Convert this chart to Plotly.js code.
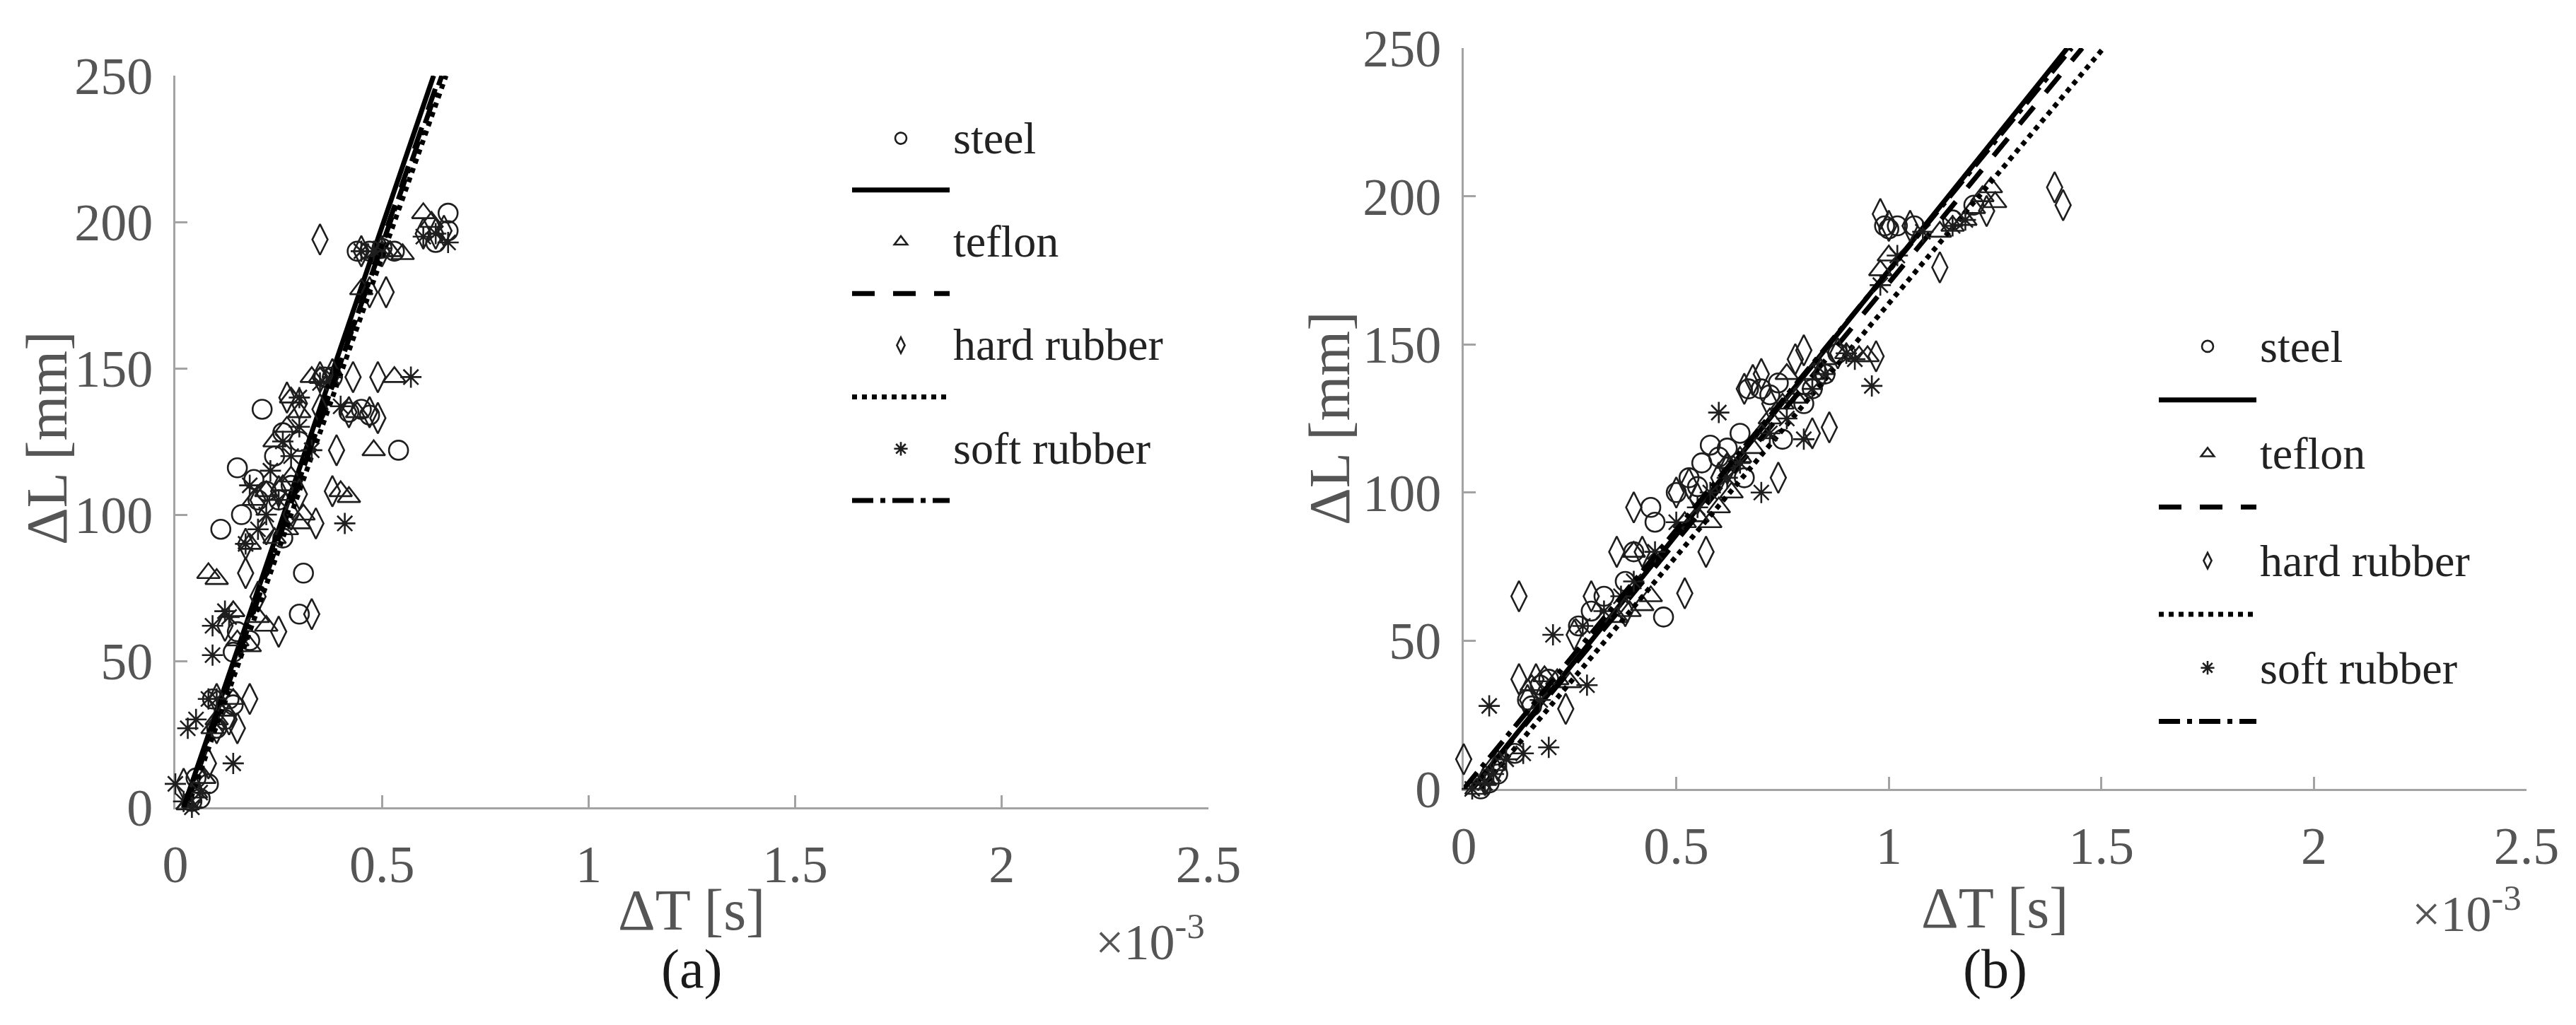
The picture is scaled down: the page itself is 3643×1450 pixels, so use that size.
<!DOCTYPE html>
<html>
<head>
<meta charset="utf-8">
<script src="https://cdn.plot.ly/plotly-3.0.1.min.js"></script>
<style>
html, body { margin: 0; padding: 0; background: #fff; }
#plotDiv { width: 3643px; height: 1450px; }
</style>
</head>
<body>
<div id="plotDiv"></div>
<script>
"use strict";

// Delta T in units of 1e-3 s, delta L in mm

// (a)
const steelA_dt = [0.04,0.06,0.08,0.05,0.10,0.12,0.14,0.09,0.13,0.14,0.18,0.15,0.11,0.16,0.20,0.25,0.22,0.28,0.15,0.19,0.24,0.30,0.21,0.26,0.31,0.30,0.26,0.36,0.38,0.42,0.45,0.47,0.54,0.44,0.47,0.50,0.53,0.63,0.66,0.66];
const steelA_dl = [2,3,8,10,27,30,35,37,37,53,57,60,95,100,105,105,108,110,116,112,120,125,136,128,80,66,92,147,147,135,136,134,122,190,190,191,190,193,197,203];
const teflonA_dt = [0.03,0.05,0.07,0.09,0.10,0.12,0.14,0.08,0.10,0.15,0.18,0.14,0.20,0.22,0.18,0.24,0.27,0.30,0.19,0.22,0.26,0.28,0.31,0.24,0.27,0.30,0.28,0.33,0.35,0.40,0.42,0.44,0.48,0.53,0.45,0.50,0.52,0.55,0.60,0.62];
const teflonA_dl = [1,5,10,27,30,33,37,80,78,57,55,67,65,62,90,92,95,97,105,108,110,113,100,125,130,135,140,147,147,108,106,135,122,147,177,190,190,189,203,200];
const hardA_dt = [0.02,0.05,0.08,0.10,0.10,0.13,0.15,0.18,0.12,0.17,0.20,0.25,0.33,0.17,0.22,0.28,0.20,0.25,0.30,0.34,0.38,0.39,0.27,0.30,0.35,0.42,0.47,0.49,0.43,0.49,0.35,0.38,0.45,0.50,0.47,0.51,0.60,0.63,0.65,0.35];
const hardA_dl = [8,5,15,37,27,30,27,37,62,80,72,60,66,90,95,100,105,108,107,97,108,122,140,138,136,135,135,133,147,147,147,148,190,190,176,176,196,196,197,194];
const softA_dt = [0.00,0.02,0.04,0.06,0.03,0.05,0.08,0.10,0.14,0.09,0.09,0.13,0.12,0.17,0.20,0.22,0.25,0.18,0.23,0.28,0.26,0.30,0.33,0.41,0.30,0.35,0.38,0.40,0.57,0.45,0.48,0.50,0.60,0.63,0.66];
const softA_dl = [8,2,0,5,27,30,37,37,15,62,52,65,67,90,95,100,105,110,115,120,125,130,122,97,140,145,147,137,147,190,190,191,195,196,193];

// fitted lines (a): end points
const fitA_dl = [0, 250];
const steelFitA_dt = [0.02, 0.625];
const teflonFitA_dt = [0.025, 0.64];
const hardFitA_dt = [0.03, 0.655];
const softFitA_dt = [0.02, 0.645];

// (b)
const steelB_dt = [0.04,0.06,0.08,0.15,0.18,0.20,0.12,0.16,0.27,0.30,0.33,0.38,0.40,0.47,0.44,0.45,0.50,0.53,0.55,0.58,0.56,0.60,0.62,0.65,0.67,0.70,0.72,0.74,0.66,0.75,0.80,0.82,0.85,0.88,0.99,1.00,1.02,1.06,1.15,1.20];
const steelB_dl = [0,2,5,30,35,37,12,28,55,60,65,70,80,58,95,90,100,105,102,116,110,112,115,120,135,135,133,137,105,118,130,135,140,147,190,189,190,190,192,197];
const teflonB_dt = [0.03,0.05,0.07,0.16,0.19,0.22,0.25,0.36,0.39,0.42,0.40,0.44,0.52,0.55,0.58,0.60,0.63,0.62,0.65,0.68,0.70,0.72,0.75,0.78,0.80,0.76,0.82,0.85,0.90,0.93,0.95,0.98,1.00,1.12,1.15,1.18,1.20,1.22,1.24,1.25];
const teflonB_dl = [0,3,8,35,38,37,36,58,60,62,80,65,90,92,90,95,100,110,112,115,120,125,130,132,135,140,140,145,147,146,146,175,180,188,190,192,196,200,203,198];
const hardB_dt = [0.00,0.05,0.08,0.13,0.15,0.17,0.24,0.13,0.26,0.30,0.36,0.40,0.42,0.38,0.57,0.50,0.53,0.55,0.60,0.62,0.66,0.68,0.70,0.72,0.74,0.78,0.80,0.84,0.82,0.88,0.86,0.97,0.98,1.00,1.05,1.12,1.23,1.39,1.41,0.52];
const hardB_dl = [10,3,8,37,30,37,27,65,52,65,80,95,80,60,80,100,103,98,105,108,135,138,140,130,105,145,148,140,120,147,122,146,194,190,190,176,195,203,197,66];
const softB_dt = [0.02,0.05,0.07,0.06,0.10,0.14,0.20,0.18,0.29,0.21,0.28,0.33,0.37,0.40,0.45,0.50,0.60,0.55,0.58,0.62,0.65,0.70,0.72,0.76,0.80,0.82,0.85,0.90,0.96,0.92,0.98,1.02,1.08,1.15,1.18];
const softB_dl = [0,2,5,28,10,12,14,30,35,52,55,60,65,70,80,90,127,95,100,105,110,100,120,125,118,135,140,147,136,145,170,180,188,190,192];

// fitted lines (b)
const fitB_dl = [0, 250];
const steelFitB_dt = [0.02, 1.42];
const teflonFitB_dt = [0.02, 1.455];
const hardFitB_dt = [0.04, 1.505];
const softFitB_dt = [0.0, 1.43];

const materials = ['steel', 'teflon', 'hard rubber', 'soft rubber'];
const tickVals = [0, 0.5, 1, 1.5, 2, 2.5];
const tickText = ['0', '0.5', '1', '1.5', '2', '2.5'];

const FONT = '"Liberation Serif", "Times New Roman", "DejaVu Serif", serif';
const TEXT_GRAY = '#555555';
const AXIS_GRAY = '#a3a3a3';
const MARK_COLOR = '#1e1e1e';

const symbols = ['circle-open', 'triangle-up-open', 'diamond-tall-open', 'asterisk-open'];
const symbolSizes = [27, 28, 31, 25];
const dashes = ['solid', '32px,26px', '7px,7px', '30px,10px,7px,10px'];

function makeTraces(points, fits, fitY, xa, ya, legendId) {
    var traces = [];
    for (var i = 0; i < materials.length; i++) {
        traces.push({
            x: points[i][0],
            y: points[i][1],
            name: '<span style="font-size:64px">' + materials[i] + '</span>',
            type: 'scatter',
            mode: 'markers',
            xaxis: xa,
            yaxis: ya,
            legend: legendId,
            cliponaxis: false,
            marker: {
                symbol: symbols[i],
                size: symbolSizes[i],
                color: MARK_COLOR,
                line: { color: MARK_COLOR, width: 2.6 }
            }
        });
        traces.push({
            x: fits[i],
            y: fitY,
            name: ' ',
            type: 'scatter',
            mode: 'lines',
            xaxis: xa,
            yaxis: ya,
            legend: legendId,
            line: { color: '#000000', width: 7, dash: dashes[i] }
        });
    }
    return traces;
}

const tracesA = makeTraces(
    [[steelA_dt, steelA_dl], [teflonA_dt, teflonA_dl], [hardA_dt, hardA_dl], [softA_dt, softA_dl]],
    [steelFitA_dt, teflonFitA_dt, hardFitA_dt, softFitA_dt], fitA_dl, 'x', 'y', 'legend');
const tracesB = makeTraces(
    [[steelB_dt, steelB_dl], [teflonB_dt, teflonB_dl], [hardB_dt, hardB_dl], [softB_dt, softB_dl]],
    [steelFitB_dt, teflonFitB_dt, hardFitB_dt, softFitB_dt], fitB_dl, 'x2', 'y2', 'legend2');

function xAxis(domain, anchor) {
    return {
        domain: domain,
        anchor: anchor,
        range: [0, 2.5],
        tickvals: tickVals,
        ticktext: tickText,
        ticks: 'inside',
        ticklen: 17,
        tickwidth: 3,
        tickcolor: AXIS_GRAY,
        showline: true,
        linecolor: AXIS_GRAY,
        linewidth: 3,
        showgrid: false,
        zeroline: false,
        layer: 'below traces',
        ticklabelstandoff: 14,
        tickfont: { family: FONT, size: 74, color: TEXT_GRAY }
    };
}

function yAxis(domain, anchor) {
    return {
        domain: domain,
        anchor: anchor,
        range: [0, 250],
        tickvals: [0, 50, 100, 150, 200, 250],
        ticks: 'inside',
        ticklen: 17,
        tickwidth: 3,
        tickcolor: AXIS_GRAY,
        showline: true,
        linecolor: AXIS_GRAY,
        linewidth: 3,
        showgrid: false,
        zeroline: false,
        layer: 'below traces',
        ticklabelstandoff: 14,
        tickfont: { family: FONT, size: 74, color: TEXT_GRAY }
    };
}

function legendBox(x, y, fontSize) {
    return {
        x: x,
        y: y,
        xanchor: 'left',
        yanchor: 'top',
        bgcolor: 'rgba(0,0,0,0)',
        borderwidth: 0,
        itemwidth: 138,
        itemclick: false,
        traceorder: 'normal',
        font: { family: FONT, size: fontSize, color: '#222222' }
    };
}

function label(text, x, y, size, color, xanchor, angle) {
    return {
        xref: 'paper', yref: 'paper',
        x: x / 3643, y: 1 - y / 1450,
        xanchor: xanchor, yanchor: 'middle',
        textangle: angle || 0,
        text: text, showarrow: false,
        font: { family: FONT, size: size, color: color }
    };
}

var layout = {
    width: 3643,
    height: 1450,
    margin: { l: 0, r: 0, t: 0, b: 0 },
    paper_bgcolor: '#ffffff',
    plot_bgcolor: '#ffffff',
    font: { family: FONT, color: TEXT_GRAY },
    showlegend: true,
    xaxis: xAxis([248 / 3643, 1709 / 3643], 'y'),
    yaxis: yAxis([1 - 1142 / 1450, 1 - 107 / 1450], 'x'),
    xaxis2: xAxis([2070 / 3643, 3573 / 3643], 'y2'),
    yaxis2: yAxis([1 - 1116 / 1450, 1 - 68 / 1450], 'x2'),
    legend: legendBox(1200 / 3643, 1 - 154 / 1450, 54),
    legend2: legendBox(3048 / 3643, 1 - 447 / 1450, 56),
    annotations: [
        // axis titles
        label('ΔT [s]', 978, 1287, 82, TEXT_GRAY, 'center'),
        label('ΔT [s]', 2821, 1284, 82, TEXT_GRAY, 'center'),
        label('ΔL [mm]', 66, 620, 82, TEXT_GRAY, 'center', -90),
        label('ΔL [mm]', 1880, 592, 82, TEXT_GRAY, 'center', -90),
        // exponent labels
        label('×10<sup>-3</sup>', 1706, 1327, 72, TEXT_GRAY, 'right'),
        label('×10<sup>-3</sup>', 3568, 1287, 72, TEXT_GRAY, 'right'),
        // panel labels
        label('(a)', 978, 1370, 78, '#1a1a1a', 'center'),
        label('(b)', 2821, 1370, 78, '#1a1a1a', 'center')
    ]
};

var config = { staticPlot: true, responsive: false };

Plotly.newPlot('plotDiv', tracesA.concat(tracesB), layout, config);
</script>
</body>
</html>
